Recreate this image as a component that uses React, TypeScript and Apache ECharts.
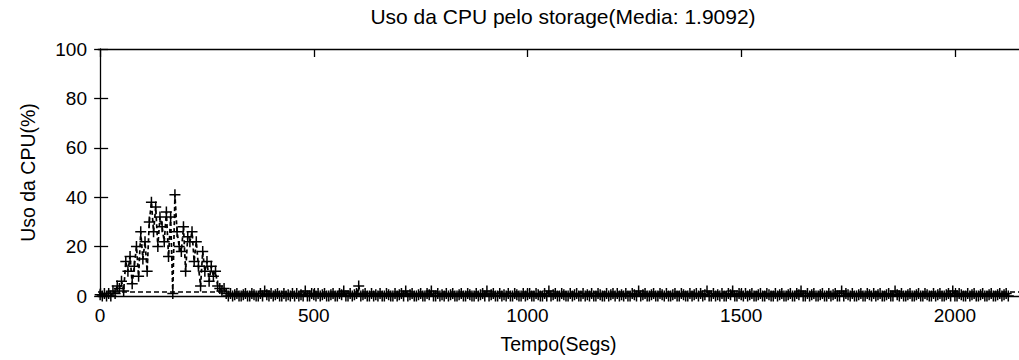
import React, { useEffect, useRef } from "react";
import * as echarts from "echarts";

const TITLE = "Uso da CPU pelo storage(Media: 1.9092)";
const X_NAME = "Tempo(Segs)";
const Y_NAME = "Uso da CPU(%)";
const MEAN = 1.9092;
const X_TICKS = [0, 500, 1000, 1500, 2000];
const Y_TICKS = [0, 20, 40, 60, 80, 100];
const SAMPLE_STEP = 5; // seconds between samples

// CPU usage (%) for t = 0 .. 300 s
const PEAK_VALUES = [
  0.5, 0, 1, 0, 1, 0, 2, 1, 4, 3, 6, 2, 14, 10, 16, 5, 12, 20, 8, 26,
  15, 22, 10, 30, 38, 26, 36, 20, 32, 28, 22, 34, 16, 32, 1, 41, 26, 20, 18, 28,
  10, 24, 22, 26, 14, 22, 12, 4, 18, 10, 14, 6, 12, 8, 10, 4, 3, 2, 3, 1,
  0,
];

// CPU usage (%) for t = 305 .. 2125 s
const IDLE_VALUES = [
  1, 0, 0.5, 1, 0, 0, 0.5, 1, 0, 0, 1, 0.5, 0, 0, 1, 0, 2, 0.5, 0, 1,
  0, 0.5, 1, 0, 0, 1, 0, 0.5, 0, 1, 0, 1, 0, 0.5, 0, 2, 0, 0, 1, 0.5,
  0, 1, 0, 0.5, 1, 0, 0, 0.5, 1, 0, 0, 1, 0.5, 2, 0, 0, 1, 0, 0.5, 1,
  4, 0, 0.5, 1, 0, 0, 1, 0, 0.5, 0, 1, 0, 0, 1, 0.5, 0, 0, 1, 0, 0.5,
  1, 0, 2, 0, 0.5, 1, 0, 0, 0.5, 1, 0, 0, 1, 0.5, 2, 0, 0, 1, 0, 0.5,
  0, 1, 0, 0.5, 1, 0, 0, 0.5, 1, 0, 0, 1, 0.5, 0, 0, 1, 0, 0.5, 1, 0,
  2, 0, 0.5, 1, 0, 0, 1, 0, 0.5, 0, 1, 0, 0, 1, 0.5, 0, 0, 1, 0, 0.5,
  1, 0, 0, 1, 0.5, 0, 0, 1, 0, 2, 0, 0.5, 1, 0, 0, 1, 0.5, 0, 0, 1,
  0, 0.5, 1, 0, 0, 1, 0, 0.5, 0, 1, 0, 0, 1, 0.5, 0, 0, 1, 0, 0.5, 1,
  0, 1, 0, 0.5, 0, 1, 0, 0, 1, 0.5, 0, 2, 0, 0.5, 1, 0, 0, 0.5, 1, 0,
  0, 1, 0.5, 0, 1, 0, 0, 0.5, 1, 0, 0, 1, 0.5, 0, 0, 1, 0, 0.5, 1, 0,
  1, 0, 0.5, 2, 0, 0, 1, 0, 0.5, 0, 1, 0, 0, 1, 0.5, 2, 0, 0, 1, 0.5,
  0, 1, 0, 0.5, 1, 0, 0, 0.5, 1, 0, 0, 1, 0.5, 0, 0, 1, 0, 0.5, 1, 0,
  0, 0.5, 1, 0, 0, 1, 0.5, 2, 0, 0, 1, 0, 0.5, 1, 0, 0, 0.5, 1, 0, 0,
  1, 0, 0.5, 1, 0, 0, 2, 0, 1, 0.5, 0, 1, 0, 0, 0.5, 1, 0, 0, 1, 0.5,
  0, 1, 0, 0.5, 1, 0, 0, 0.5, 1, 0, 0, 2, 0.5, 0, 1, 0, 0, 0.5, 1, 0,
  0, 0.5, 1, 0, 0, 1, 0.5, 0, 0, 1, 0, 0.5, 1, 0, 0, 0.5, 1, 0, 2, 0,
  0, 1, 0.5, 0, 0, 1, 0, 0.5, 1, 0, 0, 0.5, 1, 0, 0, 0.5, 1, 0, 0, 0.5,
  1, 0, 0.5, 1, 0,
];

const FONT = "Liberation Sans, Arial, Helvetica, sans-serif";

export default function App() {
  const ref = useRef<HTMLDivElement>(null);

  useEffect(() => {
    if (!ref.current) return;
    const chart = echarts.init(ref.current, undefined, { renderer: "svg" });
    const values = [...PEAK_VALUES, ...IDLE_VALUES];
    const data = values.map((v, i) => [i * SAMPLE_STEP, v]);

    const xMin = -5;
    const xMax = 2150;

    const baseAxis = {
      type: "value" as const,
      min: xMin,
      max: xMax,
      splitLine: { show: false },
      axisLine: { show: true, onZero: false, lineStyle: { color: "#000", width: 1.3 } },
    };

    chart.setOption({
      animation: false,
      backgroundColor: "#fff",
      textStyle: { fontFamily: FONT },
      grid: { left: 98, top: 49, right: 0, bottom: 64, containLabel: false },
      graphic: [
        {
          type: "text",
          x: 563,
          y: 6,
          style: {
            text: TITLE,
            font: `21px ${FONT}`,
            fill: "#000",
            textAlign: "center",
          },
        },
      ],
      xAxis: [
        {
          ...baseAxis,
          position: "bottom",
          name: X_NAME,
          nameLocation: "middle",
          nameGap: 38,
          nameTextStyle: { fontSize: 19.5, color: "#000", fontFamily: FONT },
          axisTick: {
            show: true,
            inside: true,
            length: 8,
            customValues: X_TICKS,
            lineStyle: { color: "#000", width: 1.3 },
          },
          axisLabel: {
            show: true,
            customValues: X_TICKS,
            formatter: (v: number) => String(v),
            margin: 10,
            fontSize: 19,
            color: "#000",
            fontFamily: FONT,
          },
        },
        {
          ...baseAxis,
          position: "top",
          axisTick: {
            show: true,
            inside: true,
            length: 8,
            customValues: X_TICKS,
            lineStyle: { color: "#000", width: 1.3 },
          },
          axisLabel: { show: false },
        },
      ],
      yAxis: [
        {
          type: "value",
          min: 0,
          max: 100,
          interval: 20,
          position: "left",
          name: Y_NAME,
          nameLocation: "middle",
          nameGap: 60,
          nameRotate: 90,
          nameTextStyle: { fontSize: 19.5, color: "#000", fontFamily: FONT },
          splitLine: { show: false },
          axisLine: { show: true, lineStyle: { color: "#000", width: 1.3 } },
          axisTick: { show: true, inside: true, length: 8, lineStyle: { color: "#000", width: 1.3 } },
          axisLabel: {
            show: true,
            margin: 11,
            fontSize: 19,
            color: "#000",
            fontFamily: FONT,
            formatter: (v: number) => (Y_TICKS.includes(v) ? String(v) : ""),
          },
        },
        {
          type: "value",
          min: 0,
          max: 100,
          interval: 20,
          position: "right",
          splitLine: { show: false },
          axisLine: { show: false },
          axisTick: { show: true, inside: true, length: 6, lineStyle: { color: "#000", width: 1.3 } },
          axisLabel: { show: false },
        },
      ],
      series: [
        {
          type: "line",
          xAxisIndex: 0,
          yAxisIndex: 0,
          data,
          symbol: "path://M0,5L10,5M5,0L5,10",
          symbolSize: 11,
          showAllSymbol: true,
          itemStyle: { color: "rgba(0,0,0,0)", borderColor: "#000", borderWidth: 1.5 },
          lineStyle: { color: "#000", width: 1.7, type: [4, 3] },
          markLine: {
            silent: true,
            symbol: ["none", "none"],
            label: { show: false },
            lineStyle: { color: "#000", width: 1.7, type: [5, 3] },
            data: [{ yAxis: MEAN }],
          },
          z: 3,
        },
      ],
    });

    return () => chart.dispose();
  }, []);

  return (
    <div
      ref={ref}
      style={{ position: "fixed", left: 0, top: 0, width: 1019, height: 360, background: "#fff" }}
    />
  );
}
